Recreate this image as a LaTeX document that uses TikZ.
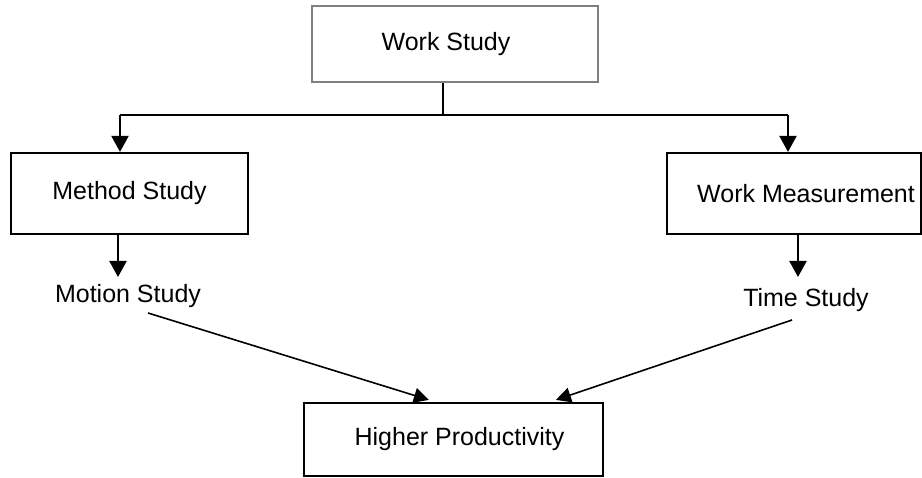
\documentclass[tikz,border=0pt]{standalone}
\usepackage{fontspec}
\setmainfont{Liberation Sans}
\usetikzlibrary{arrows.meta,calc}
\begin{document}
\begin{tikzpicture}[x=1pt,y=-1pt,
  every node/.style={font=\fontsize{25}{28}\selectfont, inner sep=0pt},
  box/.style={draw=black, line width=2.2pt},
  graybox/.style={draw=black!50, line width=2pt},
  conn/.style={line width=2.2pt, black},
  arr/.style={conn, -{Triangle[width=17pt,length=16pt]}},
  thin arr/.style={line width=1.6pt, black, -{Triangle[width=15pt,length=15pt]}}]
\useasboundingbox (0,0) rectangle (922,478);
% boxes
\node[graybox, minimum width=286pt, minimum height=76pt] (ws) at (455,44) {\raisebox{4pt}{\hspace*{-18pt}Work Study}};
\node[box, minimum width=237pt, minimum height=81pt] (ms) at (129.5,193.5) {\raisebox{3pt}{Method Study}};
\node[box, minimum width=254pt, minimum height=81pt] (wm) at (794,193.5) {};
\node[anchor=west] (wmt) at (697,193.5) {Work Measurement};
\node[box, minimum width=299pt, minimum height=73pt] (hp) at (453.5,439.5) {\hspace*{12pt}Higher Productivity};
% plain labels
\node (mo) at (128,296) {Motion Study};
\node (ts) at (806,300) {Time Study};
% connectors
\coordinate (j) at (443,115);
\coordinate (jl) at (120,115);
\coordinate (jr) at (788,115);
\draw[conn] (ws.south -| j) -- (j);
\draw[conn] (jl) -- (jr);
\draw[arr] (jl) -- (jl |- ms.north);
\draw[arr] (jr) -- (jr |- wm.north);
\coordinate (ml) at (118,277);
\coordinate (tr) at (798,277);
\draw[arr] (ms.south -| ml) -- (ml);
\draw[arr] (wm.south -| tr) -- (tr);
\coordinate (ls) at (148,313);
\coordinate (rs) at (792,320);
\draw[thin arr] (ls) -- ($(hp.north west)+(126,-2)$);
\draw[thin arr] (rs) -- ($(hp.north west)+(253,-2)$);
\end{tikzpicture}
\end{document}
